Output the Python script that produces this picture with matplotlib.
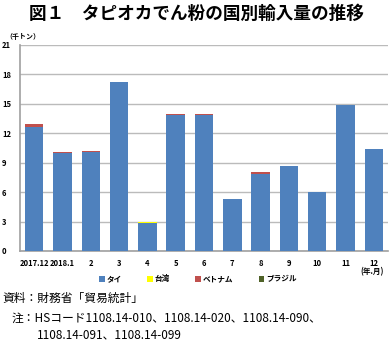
import matplotlib.pyplot as plt
import numpy as np

plt.rcParams['font.family'] = ['Noto Sans CJK JP', 'DejaVu Sans']

months = ['2017.12', '2018.1', '2', '3', '4', '5', '6', '7', '8', '9', '10', '11', '12']
thai = [12.6, 10.0, 10.1, 17.25, 2.9, 13.9, 13.85, 5.3, 7.9, 8.7, 6.05, 14.85, 10.35]
taiwan = [0, 0, 0, 0, 0.05, 0, 0, 0, 0, 0, 0, 0, 0]
vietnam = [0.3, 0.1, 0.05, 0, 0, 0.05, 0.15, 0.05, 0.2, 0, 0, 0, 0.05]
brazil = [0, 0, 0, 0, 0.05, 0, 0, 0, 0, 0, 0, 0, 0]
yticks = [0, 3, 6, 9, 12, 15, 18, 21]

fig = plt.figure(figsize=(3.89, 3.41), dpi=100)
ax = fig.add_axes([20/389, 1-251/341, 368/389, 206/341])

x = np.arange(len(months))
w = 0.65
b1 = np.array(thai)
b2 = b1 + np.array(taiwan)
b3 = b2 + np.array(vietnam)
ax.bar(x, thai, w, color='#4F81BD', label='タイ', zorder=3)
ax.bar(x, taiwan, w, bottom=b1, color='#FFFF00', label='台湾', zorder=3)
ax.bar(x, vietnam, w, bottom=b2, color='#C0504D', label='ベトナム', zorder=3)
ax.bar(x, brazil, w, bottom=b3, color='#4F6228', label='ブラジル', zorder=3)

ax.set_xlim(-0.5, len(months) - 0.5)
ax.set_ylim(0, 21)
ax.set_yticks(yticks)
ax.set_yticklabels([str(v) for v in yticks], fontsize=5.5, fontweight='bold')
ax.set_xticks(x)
ax.set_xticklabels(months, fontsize=5.5, fontweight='bold')
ax.tick_params(length=0, pad=6)
ax.tick_params(axis='y', pad=13)
for lab in ax.get_yticklabels():
    lab.set_horizontalalignment('left')
ax.grid(axis='y', color='#BBBBBB', lw=1, zorder=0)
for s in ['top', 'right']:
    ax.spines[s].set_visible(False)
ax.spines['left'].set_color('#A0A0A0')
ax.spines['bottom'].set_color('#A0A0A0')
ax.spines['left'].set_linewidth(1.2)
ax.spines['bottom'].set_linewidth(1.2)

fig.text(5/389, 1-36/341, '（千トン）', fontsize=5, fontweight='bold', va='center', ha='left')
fig.text(372/389, 1-272/341, '(年.月)', fontsize=5.5, fontweight='bold', va='center', ha='center')

fig.legend(loc='center', bbox_to_anchor=(198/389, 1-279/341), ncol=4, frameon=False,
           handlelength=0.7, handleheight=0.7, handletextpad=0.3,
           columnspacing=3.3, prop={'weight': 'bold', 'size': 5.5})

fig.text(196/389, 1-14/341, '図１　タピオカでん粉の国別輸入量の推移', fontsize=12.7,
         fontweight='bold', ha='center', va='center')
fig.text(2/389, 1-298/341, '資料：財務省「貿易統計」', fontsize=8.5, va='center', ha='left')
fig.text(12/389, 1-318/341, '注：HSコード1108.14-010、1108.14-020、1108.14-090、',
         fontsize=8.5, va='center', ha='left')
fig.text(37/389, 1-335/341, '1108.14-091、1108.14-099', fontsize=8.5, va='center', ha='left')

fig.savefig('out.png', dpi=100)
